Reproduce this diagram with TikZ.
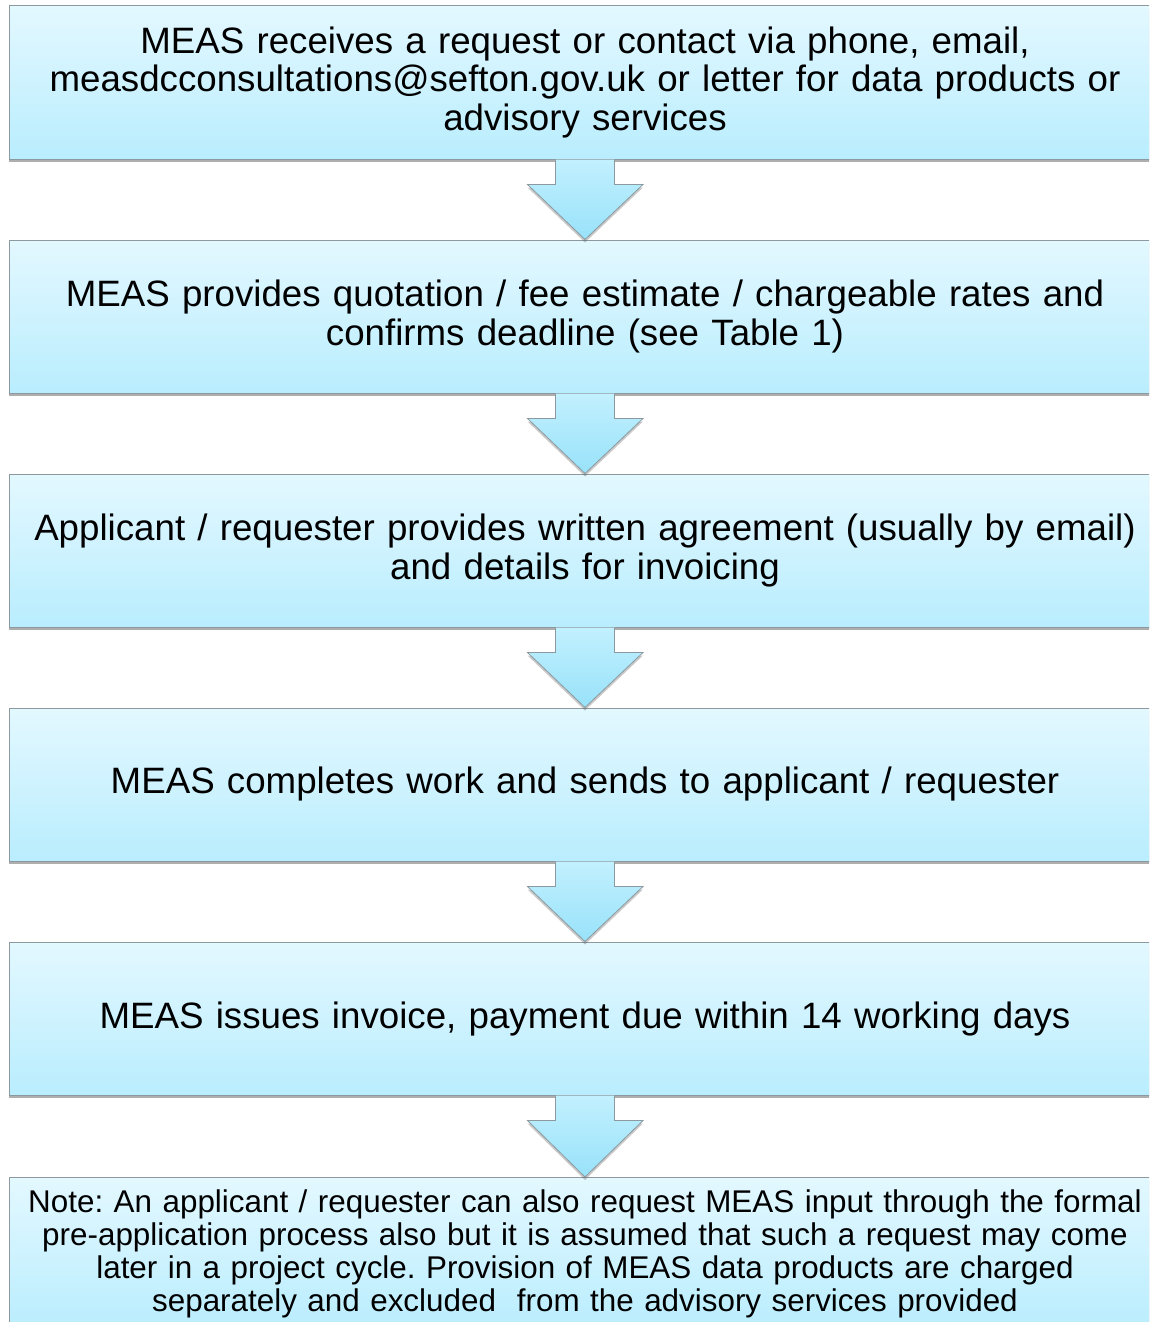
\documentclass[tikz,border=0pt]{standalone}
\usepackage{fontspec}
\setmainfont{Liberation Sans}
\usetikzlibrary{calc,shadows}
\definecolor{boxtop}{HTML}{E3F8FF}
\definecolor{boxbot}{HTML}{B9EDFE}
\definecolor{arrtop}{HTML}{C2F0FE}
\definecolor{arrbot}{HTML}{98E2FA}
\definecolor{edge}{HTML}{8C9AA0}
\tikzset{
  stepbox/.style={draw=edge, line width=1pt, top color=boxtop, bottom color=boxbot,
    minimum width=1152pt, minimum height=153pt, inner sep=0pt, align=center,
    text width=1145pt, font=\fontsize{36.7}{38.5}\selectfont,
    drop shadow={shadow xshift=0pt, shadow yshift=-3pt, opacity=0.45, fill=black!70}},
  notebox/.style={stepbox, font=\fontsize{31.4}{33}\selectfont},
  flowarrow/.style={draw=edge, line width=0.8pt, top color=arrtop, bottom color=arrbot,
    drop shadow={shadow xshift=0pt, shadow yshift=-3pt, opacity=0.3, fill=black!70}}
}
\newcommand{\flowarr}[2]{%
  \path[flowarrow] ($(#1.south)+(-29.5pt,0)$) -- ++(0,-25pt) -- ++(-28pt,0) -- (#2.north)
    -- ($(#1.south)+(58pt,-25pt)$) -- ++(-28.5pt,0) -- ($(#1.south)+(29.5pt,0)$);}
\begin{document}
\frenchspacing
\begin{tikzpicture}[x=1pt,y=1pt]
\useasboundingbox (0,0) rectangle (1149,-1322);
\clip (0,0) rectangle (1149,-1322);
\node[stepbox] (b1) at (585,-82.5) {MEAS receives a request or contact via phone, email,\\ measdcconsultations@sefton.gov.uk or letter for data products or\\ advisory services};
\node[stepbox] (b2) at (585,-316.5) {MEAS provides quotation / fee estimate / chargeable rates and\\ confirms deadline (see Table 1)};
\node[stepbox] (b3) at (585,-550.5) {Applicant / requester provides written agreement (usually by email)\\ and details for invoicing};
\node[stepbox] (b4) at (585,-784.5) {MEAS completes work and sends to applicant / requester};
\node[stepbox] (b5) at (585,-1018.5) {MEAS issues invoice, payment due within 14 working days};
\node[notebox] (b6) at (585,-1254) {Note: An applicant / requester can also request MEAS input through the formal\\ pre-application process also but it is assumed that such a request may come\\ later in a project cycle. Provision of MEAS data products are charged\\ separately and excluded\ \ from the advisory services provided};
\flowarr{b1}{b2}
\flowarr{b2}{b3}
\flowarr{b3}{b4}
\flowarr{b4}{b5}
\flowarr{b5}{b6}
\end{tikzpicture}
\end{document}
